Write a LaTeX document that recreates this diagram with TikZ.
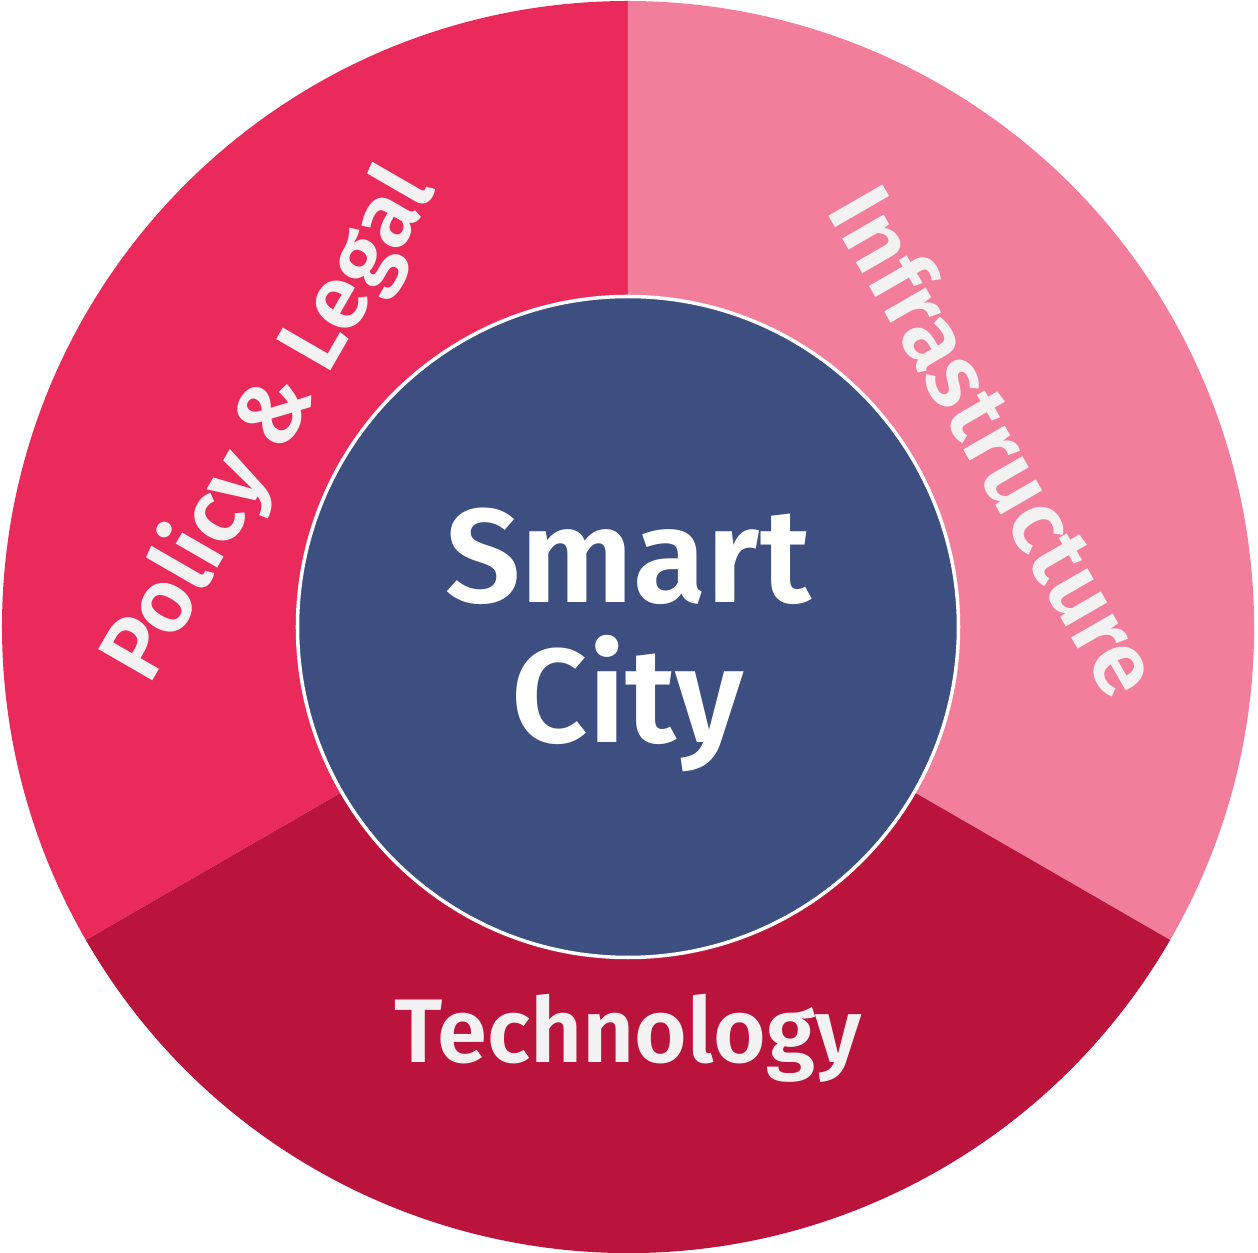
\documentclass[tikz,border=0pt]{standalone}
\usepackage{fontspec}
\setmainfont{Fira Sans}[BoldFont={Fira Sans SemiBold}]
\usetikzlibrary{positioning}
\definecolor{policyred}{HTML}{EA2A5B}
\definecolor{infrapink}{HTML}{F27E9C}
\definecolor{techred}{HTML}{BA143D}
\definecolor{coreblue}{HTML}{3D4E80}
\definecolor{labelwhite}{HTML}{F2F2F2}
\begin{document}
\begin{tikzpicture}[
    ringlabel/.style={text=labelwhite, anchor=base, inner sep=0pt,
      font=\bfseries\fontsize{25.7}{30}\selectfont},
    corecircle/.style={circle, fill=coreblue, draw=white, line width=1pt,
      minimum size=6.61cm, inner sep=0pt}
  ]
  \useasboundingbox (-6.28,-6.26) rectangle (6.30,6.27);
  % the three sectors of the ring
  \fill[policyred] (0,0) -- (90:6.26) arc (90:210:6.26) -- cycle;
  \fill[infrapink] (0,0) -- (-30:6.26) arc (-30:90:6.26) -- cycle;
  \fill[techred] (0,0) -- (210:6.26) arc (210:330:6.26) -- cycle;

  \node (core) [corecircle] at (0,0) {};
  \node (corelabel) [text=white, align=center, inner sep=0pt,
    font=\bfseries\fontsize{38}{40}\selectfont]
    at ([yshift=-1.3mm]core.center) {Smart\\City};

  \node (policy) [ringlabel, rotate=60] at (150.6:3.85) {Policy \& Legal};
  \node (infra) [ringlabel, rotate=-60] at (26.5:3.80) {Infrastructure};
  \node (tech) [ringlabel] at (0,-4.36) {Technology};
\end{tikzpicture}
\end{document}
